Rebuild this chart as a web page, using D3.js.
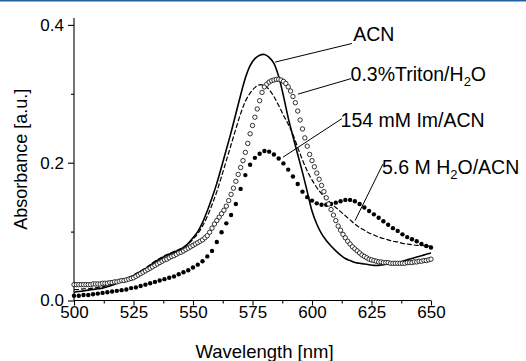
<!DOCTYPE html>
<html>
<head>
<meta charset="utf-8">
<script src="https://cdn.jsdelivr.net/npm/d3@7"></script>
<style>
  body { margin: 0; background: #fff; }
  svg { display: block; font-family: "Liberation Sans", Arial, sans-serif; }
</style>
</head>
<body>
<div id="chart"></div>
<script>
// sampling grids (nm)
const wlFine = d3.range(500, 651, 1);
const wlCoarse = d3.range(500, 651, 2);

// 0.3%Triton/H2O, open circles, every 1 nm
const triton = [
  .023,.023,.023,.023,.023,.023,.023,.023,.024,.024,
  .024,.024,.025,.025,.025,.026,.026,.027,.027,.028,
  .029,.029,.030,.031,.032,.033,.035,.037,.039,.041,
  .043,.045,.047,.049,.051,.053,.055,.057,.059,.060,
  .062,.064,.065,.067,.069,.070,.072,.074,.076,.078,
  .080,.082,.084,.086,.088,.091,.094,.099,.105,.111,
  .116,.121,.126,.131,.137,.145,.154,.163,.173,.183,
  .193,.203,.215,.228,.242,.254,.266,.278,.290,.302,
  .310,.314,.317,.319,.320,.321,.321,.320,.318,.315,
  .310,.304,.296,.287,.275,.262,.249,.236,.224,.212,
  .203,.194,.185,.176,.167,.158,.149,.140,.132,.124,
  .116,.108,.102,.096,.091,.086,.082,.078,.075,.072,
  .069,.066,.064,.062,.060,.059,.058,.057,.056,.056,
  .055,.055,.055,.054,.054,.054,.054,.054,.054,.054,
  .055,.055,.055,.056,.056,.057,.057,.058,.058,.059,
  .060
];

// 154 mM Im/ACN, filled circles, every 2 nm
const imAcn = [
  .007,.007,.008,.008,.009,.010,.011,.012,.013,.014,
  .015,.016,.018,.019,.021,.023,.025,.027,.029,.031,
  .033,.035,.038,.041,.044,.048,.052,.057,.064,.072,
  .085,.099,.112,.124,.140,.162,.182,.197,.207,.213,
  .217,.216,.212,.206,.199,.190,.180,.169,.158,.150,
  .145,.141,.139,.139,.140,.142,.144,.146,.146,.144,
  .140,.135,.130,.125,.120,.115,.110,.105,.101,.096,
  .092,.089,.086,.082,.079,.077
];

// ACN, solid line, every 2 nm
const acn = [
  .012,.013,.014,.015,.016,.017,.018,.020,.022,.025,
  .028,.031,.034,.038,.042,.046,.051,.056,.060,.064,
  .067,.070,.073,.077,.083,.091,.100,.113,.130,.149,
  .170,.194,.219,.244,.271,.298,.323,.341,.351,.356,
  .357,.353,.344,.325,.297,.265,.238,.212,.186,.158,
  .130,.111,.097,.087,.079,.072,.066,.061,.058,.055,
  .054,.053,.052,.051,.051,.052,.053,.054,.055,.057,
  .059,.061,.063,.065,.067,.069
];

// 5.6 M H2O/ACN, dashed line, every 2 nm
const water = [
  .016,.016,.017,.017,.018,.019,.020,.022,.024,.026,
  .029,.032,.035,.039,.043,.047,.052,.057,.061,.065,
  .068,.071,.074,.077,.082,.089,.097,.108,.122,.139,
  .158,.180,.203,.226,.249,.271,.289,.301,.309,.313,
  .312,.306,.296,.283,.269,.256,.241,.222,.204,.188,
  .175,.164,.155,.148,.141,.135,.129,.123,.117,.111,
  .106,.102,.098,.095,.092,.090,.088,.086,.085,.083,
  .082,.081,.080,.080,.079,.079
];

const xMajor = [500, 525, 550, 575, 600, 625, 650];
const xMinor = [512.5, 537.5, 562.5, 587.5, 612.5, 637.5];
const yMajor = [0.0, 0.2, 0.4];
const yMinor = [0.1, 0.3];

// annotations: text, text anchor (nm, abs), leader from curve point to text
const labelNames = ["ACN", "0.3%Triton/H", "154 mM Im/ACN", "5.6 M H"];
const labelSubs  = [null, ["2", "O"], null, ["2", "O/ACN"]];
const labelAt    = [[617.3, 0.377], [616.2, 0.318], [612.0, 0.2515], [629.4, 0.183]];
const leaderFrom = [[584.5, 0.346], [594.1, 0.2995], [587.8, 0.208], [618.1, 0.116]];
const leaderTo   = [[616.8, 0.373], [616.4, 0.322], [612.6, 0.264], [629.8, 0.198]];

const W = 526, H = 361;
const svg = d3.select("#chart").append("svg").attr("width", W).attr("height", H);

svg.append("rect").attr("x", 0).attr("y", 0).attr("width", W).attr("height", 1.5).attr("fill", "#1f64a0");

const x = d3.scaleLinear().domain([500, 650]).range([74, 431]);
const y = d3.scaleLinear().domain([0, 0.41]).range([300.5, 18]);

const fine = wlFine.map((w, i) => [w, triton[i]]);
const coarse = (arr) => wlCoarse.map((w, i) => [w, arr[i]]);

const line = d3.line().x(d => x(d[0])).y(d => y(d[1])).curve(d3.curveCatmullRom);

// axes
const xAxis = svg.append("g").attr("transform", `translate(0,${y(0)})`)
  .call(d3.axisBottom(x).tickValues(xMajor).tickSize(5).tickPadding(0.5).tickFormat(d3.format("d")));
svg.append("g").attr("transform", `translate(0,${y(0)})`)
  .call(d3.axisBottom(x).tickValues(xMinor).tickSize(3).tickFormat(""))
  .select(".domain").remove();
const yAxis = svg.append("g").attr("transform", `translate(${x(500)},0)`)
  .call(d3.axisLeft(y).tickValues(yMajor).tickSize(6).tickPadding(4).tickFormat(d3.format(".1f")));
svg.append("g").attr("transform", `translate(${x(500)},0)`)
  .call(d3.axisLeft(y).tickValues(yMinor).tickSize(3).tickFormat(""))
  .select(".domain").remove();

svg.selectAll(".tick text").attr("font-size", 17).attr("fill", "#000")
  .attr("font-family", '"Liberation Sans", Arial, sans-serif');
svg.selectAll(".tick line, .domain").attr("stroke", "#000").attr("stroke-width", 1.1);
yAxis.select(".domain").attr("d", `M0,${y(0)}V${y.range()[1]}`);
xAxis.select(".domain").attr("d", `M${x(500)},0H${x(650)}`);

// axis titles
svg.append("text").attr("x", (x(500) + x(650)) / 2 + 12).attr("y", 358)
  .attr("text-anchor", "middle").attr("font-size", 18.5).text("Wavelength [nm]");
svg.append("text").attr("transform", `translate(27,${(y(0) + y(0.41)) / 2})rotate(-90)`)
  .attr("text-anchor", "middle").attr("font-size", 18).text("Absorbance [a.u.]");

// series
const plot = svg.append("g");

plot.append("path").datum(coarse(water)).attr("d", line)
  .attr("fill", "none").attr("stroke", "#000").attr("stroke-width", 1.2)
  .attr("stroke-dasharray", "5,2");

plot.append("path").datum(coarse(acn)).attr("d", line)
  .attr("fill", "none").attr("stroke", "#000").attr("stroke-width", 1.6);

plot.selectAll(".im").data(coarse(imAcn)).enter().append("circle")
  .attr("class", "im")
  .attr("cx", d => x(d[0])).attr("cy", d => y(d[1])).attr("r", 2.2)
  .attr("fill", "#000");

plot.selectAll(".tri").data(fine).enter().append("circle")
  .attr("class", "tri")
  .attr("cx", d => x(d[0])).attr("cy", d => y(d[1])).attr("r", 2.2)
  .attr("fill", "#fff").attr("stroke", "#000").attr("stroke-width", 0.8);

// annotations
const ann = svg.append("g");
labelNames.forEach((name, i) => {
  ann.append("line")
    .attr("x1", x(leaderFrom[i][0])).attr("y1", y(leaderFrom[i][1]))
    .attr("x2", x(leaderTo[i][0])).attr("y2", y(leaderTo[i][1]))
    .attr("stroke", "#000").attr("stroke-width", 1);
  const t = ann.append("text")
    .attr("x", x(labelAt[i][0])).attr("y", y(labelAt[i][1]))
    .attr("font-size", 19.5).attr("fill", "#000");
  t.append("tspan").text(name);
  if (labelSubs[i]) {
    t.append("tspan").attr("font-size", 13).attr("dy", 5).text(labelSubs[i][0]);
    t.append("tspan").attr("dy", -5).text(labelSubs[i][1]);
  }
});
</script>
</body>
</html>
